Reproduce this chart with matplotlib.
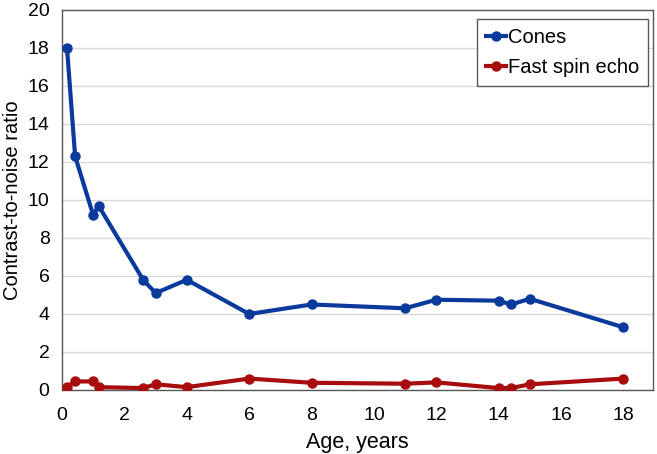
import matplotlib
matplotlib.use("Agg")
import matplotlib.pyplot as plt

plt.rcParams['font.family'] = ['Liberation Sans', 'DejaVu Sans']

# ages (years) and contrast-to-noise ratios
age = [0.16, 0.42, 1.0, 1.17, 2.6, 3.0, 4.0, 6.0, 8.0, 11.0, 12.0, 14.0, 14.4, 15.0, 18.0]
cones = [18.0, 12.3, 9.2, 9.7, 5.8, 5.1, 5.8, 4.0, 4.5, 4.3, 4.75, 4.7, 4.5, 4.8, 3.3]
fse = [0.15, 0.45, 0.45, 0.15, 0.1, 0.3, 0.15, 0.6, 0.38, 0.33, 0.4, 0.1, 0.1, 0.3, 0.6]

xticks = list(range(0, 20, 2))
yticks = list(range(0, 22, 2))

fig = plt.figure(figsize=(6.57, 4.54), dpi=100)
ax = fig.add_axes([0.0944, 0.141, 0.8996, 0.837])

ax.plot(age, cones, color='#0a3a9c', lw=3.0, marker='o', ms=6.5, label='Cones', zorder=3)
ax.plot(age, fse, color='#a80c0c', lw=3.0, marker='o', ms=6.5, label='Fast spin echo', zorder=3)

ax.set_xlim(0, 18.95)
ax.set_ylim(0, 20)
ax.set_xticks(xticks)
ax.set_yticks(yticks)
ax.tick_params(length=0, labelsize=14)
ax.tick_params(axis='x', pad=12)
ax.tick_params(axis='y', pad=9)
ax.yaxis.grid(True, color='#d9d9d9', lw=1)
ax.set_axisbelow(True)
for s in ax.spines.values():
    s.set_color('#595959')
    s.set_linewidth(1)

ax.set_xlabel('Age, years', fontsize=15.5, labelpad=6)
ax.set_ylabel('Contrast-to-noise ratio', fontsize=14.5, labelpad=4)

leg = ax.legend(loc='upper right', bbox_to_anchor=(0.9915, 0.977), fontsize=14.5,
                handlelength=1.0, handletextpad=0.1, fancybox=False,
                borderpad=0.45, labelspacing=0.55, framealpha=1,
                borderaxespad=0)
leg.get_frame().set_edgecolor('#595959')
leg.get_frame().set_linewidth(1)

fig.savefig('out.png', dpi=100)
